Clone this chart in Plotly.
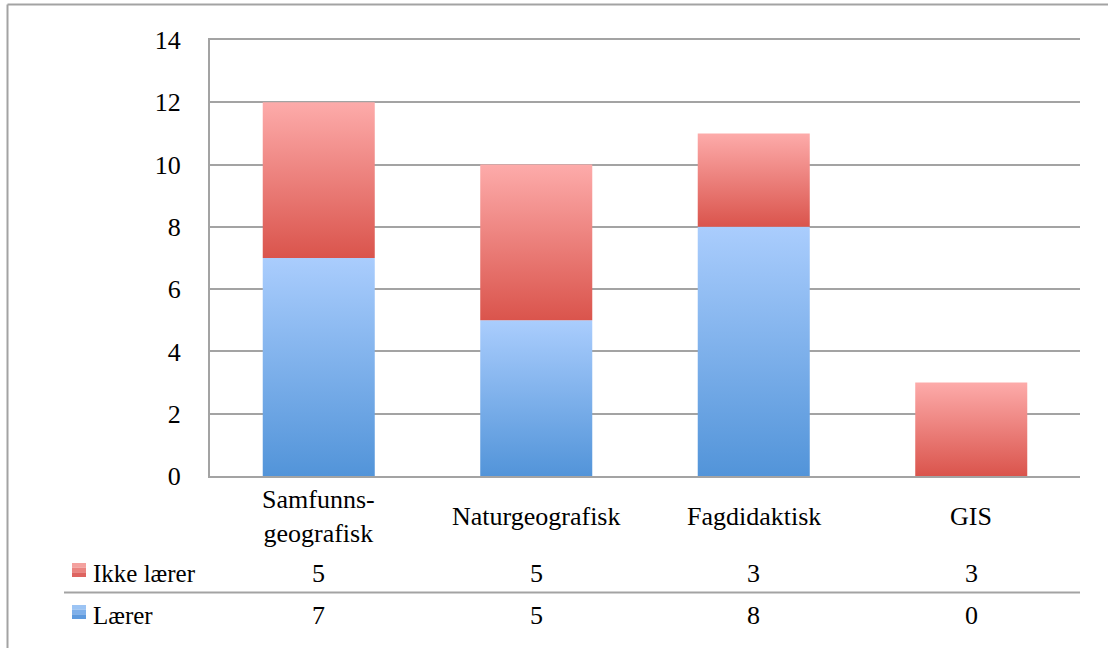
import plotly.graph_objects as go

categories = ["Samfunns-<br>geografisk", "Naturgeografisk", "Fagdidaktisk", "GIS"]
laerer = [7, 5, 8, 0]
ikke_laerer = [5, 5, 3, 3]
series_names = ["Ikke lærer", "Lærer"]
y_ticks = [0, 2, 4, 6, 8, 10, 12, 14]

FONT = "Liberation Serif, Liberation Sans, sans-serif"
GRID = "#a3a3a3"
BLUE_DARK, BLUE_LIGHT = "#5294d9", "#aacdfd"
RED_DARK, RED_LIGHT = "#da544c", "#fdabaa"
BLUE_SQ = ["#9cc4f4", "#7fb0ea", "#5e9ade"]
RED_SQ = ["#f4a19e", "#ea8480", "#de6460"]
BAR_W = 0.515

fig = go.Figure()


def add_segment(i, base, val, dark, light, name):
    if val <= 0:
        return
    x0, x1 = i - BAR_W / 2, i + BAR_W / 2
    fig.add_trace(go.Scatter(
        x=[x0, x1, x1, x0, x0],
        y=[base, base, base + val, base + val, base],
        mode="lines", fill="toself", line=dict(width=0),
        fillgradient=dict(type="vertical", colorscale=[[0, dark], [1, light]]),
        name=name, showlegend=False, hoverinfo="skip",
    ))


for i in range(len(categories)):
    add_segment(i, 0, laerer[i], BLUE_DARK, BLUE_LIGHT, "Lærer")
    add_segment(i, laerer[i], ikke_laerer[i], RED_DARK, RED_LIGHT, "Ikke lærer")

PLOT_L, PLOT_R, PLOT_T, PLOT_B = 210, 1080, 40, 476
W, H = 1108, 648
pw, ph = PLOT_R - PLOT_L, PLOT_B - PLOT_T


def px(x):
    return (x - PLOT_L) / pw


def py(y):
    return (PLOT_B - y) / ph


annotations = []
shapes = []
for i, c in enumerate(categories):
    annotations.append(dict(x=i, xref="x", y=py(516), yref="paper", text=c,
                            showarrow=False, xanchor="center", yanchor="middle",
                            font=dict(family=FONT, size=26, color="black")))
rows = [(series_names[0], ikke_laerer, 573, RED_SQ),
        (series_names[1], laerer, 615, BLUE_SQ)]
for name, vals, yc, sq in rows:
    annotations.append(dict(x=px(91), xref="paper", y=py(yc), yref="paper", text=name,
                            showarrow=False, xanchor="left", yanchor="middle",
                            font=dict(family=FONT, size=25, color="black")))
    for i, v in enumerate(vals):
        annotations.append(dict(x=i, xref="x", y=py(yc), yref="paper", text=str(v),
                                showarrow=False, xanchor="center", yanchor="middle",
                                font=dict(family=FONT, size=26, color="black")))
    top = yc - 10
    for k, col in enumerate(sq):
        shapes.append(dict(type="rect", xref="paper", yref="paper",
                           x0=px(72), x1=px(86),
                           y0=py(top + k * 14 / 3), y1=py(top + (k + 1) * 14 / 3),
                           line=dict(width=0), fillcolor=col))

shapes.append(dict(type="line", xref="paper", yref="paper", x0=px(64), x1=1.0,
                   y0=py(592.5), y1=py(592.5), line=dict(color=GRID, width=2)))
shapes.append(dict(type="line", xref="paper", yref="paper", x0=px(7.5), x1=px(W + 5),
                   y0=py(4.5), y1=py(4.5), line=dict(color=GRID, width=2)))
shapes.append(dict(type="line", xref="paper", yref="paper", x0=px(7.5), x1=px(7.5),
                   y0=py(4.5), y1=py(H + 5), line=dict(color=GRID, width=2)))

fig.update_layout(
    width=W, height=H,
    margin=dict(l=PLOT_L, r=W - PLOT_R, t=PLOT_T, b=H - PLOT_B),
    paper_bgcolor="white", plot_bgcolor="white",
    showlegend=False,
    font=dict(family=FONT, size=26, color="black"),
    xaxis=dict(range=[-0.5, len(categories) - 0.5], showticklabels=False,
               showgrid=False, zeroline=False, showline=True, mirror=True,
               linecolor=GRID, linewidth=2, fixedrange=True),
    yaxis=dict(range=[0, 14], tickvals=y_ticks, showgrid=True, gridcolor=GRID,
               gridwidth=2, zeroline=False, showline=True, linecolor=GRID,
               linewidth=2, ticks="", ticklabelstandoff=22,
               tickfont=dict(family=FONT, size=26, color="black"), fixedrange=True),
    annotations=annotations, shapes=shapes,
)

fig.write_html("out.html", config={"displayModeBar": False},
               post_script="document.body.style.margin='0';document.body.style.overflow='hidden';")
